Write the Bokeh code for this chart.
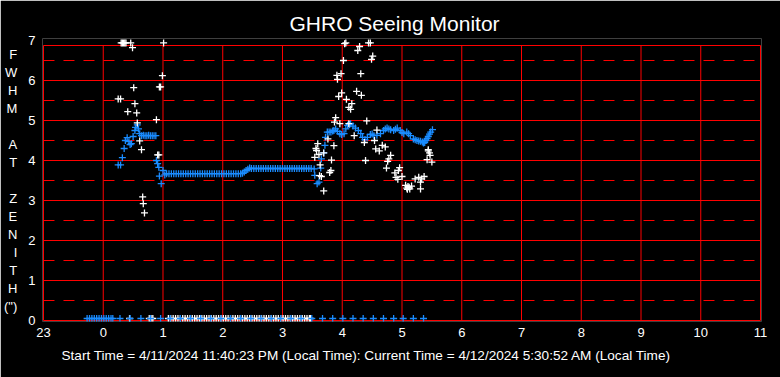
from bokeh.plotting import figure
from bokeh.models import FixedTicker, Range1d, Title
from bokeh.embed import file_html
from bokeh.resources import INLINE

# ---------------- data ----------------
title_text = "GHRO Seeing Monitor"
footer_text = ("Start Time = 4/11/2024 11:40:23 PM (Local Time): "
               "Current Time = 4/12/2024 5:30:52 AM (Local Time)")
y_label_letters = ["F", "W", "H", "M", " ", "A", "T", " ", "Z", "E", "N", "I", "T", "H", "(\")"]

x_ticks = [-1, 0, 1, 2, 3, 4, 5, 6, 7, 8, 9, 10, 11]
x_tick_labels = ["23", "0", "1", "2", "3", "4", "5", "6", "7", "8", "9", "10", "11"]
y_ticks = [0, 1, 2, 3, 4, 5, 6, 7]

# smoothed FWHM (blue)
blue_t = [0.25, 0.29, 0.32, 0.35, 0.37, 0.40, 0.43, 0.45, 0.47, 0.50, 0.53, 0.54, 0.57, 0.59,
          0.61, 0.64, 0.67, 0.70, 0.73, 0.76, 0.79, 0.82, 0.85, 0.88,
          0.89, 0.91, 0.93, 0.94, 0.97, 1.00, 1.03,
          1.06, 1.10, 1.14, 1.18, 1.22, 1.26, 1.30, 1.34, 1.38, 1.42, 1.46, 1.50, 1.54, 1.58,
          1.62, 1.66, 1.70, 1.74, 1.78, 1.82, 1.86, 1.90, 1.94, 1.98, 2.02, 2.06, 2.10, 2.14,
          2.18, 2.22, 2.26, 2.30, 2.33,
          2.36, 2.39, 2.42, 2.45,
          2.48, 2.52, 2.56, 2.60, 2.64, 2.68, 2.72, 2.76, 2.80, 2.84, 2.88, 2.92, 2.96, 3.00,
          3.04, 3.08, 3.12, 3.16, 3.20, 3.24, 3.28, 3.32, 3.36, 3.40, 3.44,
          3.48, 3.53, 3.54, 3.58, 3.61, 3.64, 3.65, 3.69, 3.71, 3.72, 3.75,
          3.78, 3.81, 3.84, 3.86, 3.89, 3.92, 3.96, 3.99, 4.03, 4.06, 4.09, 4.12, 4.14, 4.18,
          4.22, 4.27, 4.31, 4.34, 4.38, 4.42, 4.47, 4.50, 4.53, 4.58, 4.64, 4.69, 4.72, 4.75,
          4.78, 4.81, 4.86, 4.89, 4.92, 4.97, 5.00, 5.03, 5.08, 5.11, 5.14, 5.19, 5.22, 5.25,
          5.28, 5.31, 5.34, 5.36, 5.38, 5.40, 5.42, 5.44, 5.46, 5.48, 5.51]
blue_fwhm = [3.89, 3.89, 4.07, 4.30, 4.50, 4.57, 4.47, 4.40, 4.42, 4.60, 4.75, 4.83, 4.89, 4.79,
             4.67, 4.62, 4.63, 4.62, 4.62, 4.63, 4.62, 4.62, 4.62, 4.62,
             4.00, 3.92, 3.83, 3.61, 3.42, 3.75, 3.64,
             3.67, 3.67, 3.67, 3.67, 3.67, 3.67, 3.67, 3.67, 3.67, 3.67, 3.67, 3.67, 3.67, 3.67,
             3.67, 3.67, 3.67, 3.67, 3.67, 3.67, 3.67, 3.67, 3.67, 3.67, 3.67, 3.67, 3.67, 3.67,
             3.67, 3.67, 3.67, 3.67, 3.68,
             3.71, 3.75, 3.78, 3.81,
             3.80, 3.80, 3.80, 3.80, 3.80, 3.80, 3.80, 3.80, 3.80, 3.80, 3.80, 3.80, 3.80, 3.80,
             3.80, 3.80, 3.80, 3.80, 3.80, 3.80, 3.80, 3.80, 3.80, 3.80, 3.80,
             3.80, 3.79, 3.63, 3.42, 3.46, 3.81, 4.04, 4.19, 4.38, 4.58, 4.71,
             4.71, 4.71, 4.74, 4.75, 4.79, 4.73, 4.67, 4.65, 4.67, 4.79, 4.88, 4.90, 4.92, 4.86,
             4.81, 4.75, 4.67, 4.58, 4.52, 4.58, 4.65, 4.66, 4.62, 4.63, 4.67, 4.75, 4.79, 4.81,
             4.79, 4.77, 4.75, 4.78, 4.81, 4.75, 4.70, 4.67, 4.71, 4.67, 4.62, 4.54, 4.52, 4.50,
             4.49, 4.48, 4.46, 4.44, 4.45, 4.50, 4.55, 4.60, 4.66, 4.71, 4.77]

# raw FWHM samples (white)
white_t = [0.30, 0.32, 0.34, 0.36, 0.38, 0.46, 0.49, 1.01, 0.99, 0.94, 0.96, 0.51, 0.25, 0.29,
           0.53, 0.41, 0.56, 0.89, 0.57, 0.61, 0.64, 0.91, 0.93, 0.66, 0.67, 0.69,
           4.04, 4.06, 4.44, 4.47, 4.29, 4.26, 4.51, 4.49, 4.02, 4.31, 3.91, 3.98, 3.92, 3.99,
           3.94, 4.24, 4.32, 4.07, 4.16, 4.11, 4.14, 3.89, 3.87, 3.96, 4.41, 4.11, 3.76, 3.59,
           3.56, 3.57, 3.86, 3.61, 3.54, 3.69, 3.82, 4.20, 4.37, 4.54, 4.58, 4.56, 4.62, 4.67,
           4.72, 4.39, 3.63, 3.81, 3.79, 3.65, 3.62, 3.69, 4.81, 4.78, 4.76, 4.74, 4.96, 4.94,
           4.88, 5.00, 4.90, 4.93, 5.10, 5.06, 5.13, 5.16, 5.08, 5.12, 5.09, 5.22, 5.28, 5.31,
           5.33, 5.37, 5.31, 5.44, 5.46, 5.42, 5.50, 5.47, 5.44]
white_fwhm = [6.94, 6.94, 6.94, 6.94, 6.94, 6.94, 6.82, 6.94, 6.12, 5.84, 5.84, 5.82, 5.54, 5.54,
              5.42, 5.22, 5.19, 5.02, 4.94, 4.49, 4.27, 4.14, 4.14, 3.09, 2.92, 2.69,
              6.92, 6.94, 6.94, 6.94, 6.85, 6.75, 6.61, 6.53, 6.50, 6.17, 6.13, 6.17, 6.03, 5.69,
              5.60, 5.73, 5.63, 5.53, 5.42, 5.33, 5.28, 5.07, 4.96, 4.92, 4.99, 4.92, 4.54, 4.42,
              4.30, 4.25, 4.37, 4.15, 4.08, 4.19, 4.01, 4.62, 4.45, 4.50, 4.76, 4.29, 4.24, 4.38,
              4.34, 4.00, 3.89, 3.75, 3.70, 3.60, 3.62, 3.24, 4.13, 4.04, 3.98, 3.81, 3.82, 3.75,
              3.69, 3.60, 3.58, 3.53, 3.35, 3.38, 3.29, 3.36, 3.31, 3.33, 3.28, 3.54, 3.58, 3.46,
              3.54, 3.60, 3.29, 4.27, 4.19, 4.02, 3.96, 4.13, 4.24]

# readings with no value (drawn on the floor of the chart)
zero_level = 0.05
blue_zero_t = [-0.27, -0.23, -0.19, -0.15, -0.11, -0.07, -0.03, 0.01, 0.05, 0.09, 0.13, 0.16,
               0.28, 0.45, 0.63, 0.79, 0.96, 1.12, 1.29, 1.46, 1.63, 1.80, 1.97, 2.13, 2.30,
               2.47, 2.64, 2.81, 2.97, 3.14, 3.31, 3.49, 3.67, 3.84, 4.01, 4.18, 4.35, 4.52,
               4.69, 4.86, 5.02, 5.19, 5.36]
white_zero_t = [0.44, 0.77, 0.80, 0.83,
                1.09, 1.13, 1.17, 1.21, 1.25, 1.29, 1.33, 1.37, 1.41, 1.45, 1.49, 1.53, 1.57,
                1.61, 1.65, 1.69, 1.73, 1.77, 1.81, 1.85, 1.89, 1.93, 1.97, 2.01, 2.05, 2.09,
                2.13, 2.17, 2.21, 2.25, 2.29, 2.33, 2.37, 2.41, 2.45, 2.49, 2.53, 2.57, 2.61,
                2.65, 2.69, 2.73, 2.77, 2.81, 2.85, 2.89, 2.93, 2.97, 3.01, 3.05, 3.09, 3.13,
                3.17, 3.21, 3.25, 3.29, 3.33, 3.37, 3.41, 3.45, 3.47]

# ---------------- style ----------------
FONT = "Liberation Sans"
RED = "#ff0000"
BLUE = "#1a8cff"
WHITE = "#ffffff"
BOX_TOP = 6.875

p = figure(width=780, height=377,
           x_range=Range1d(-1 - 1 / 60, 11 + 1 / 60),
           y_range=Range1d(-0.025, 7.05),
           output_backend="svg", toolbar_location=None,
           min_border_left=39, min_border_right=19, min_border_top=38, min_border_bottom=56,
           background_fill_color="black", border_fill_color="black",
           outline_line_color=None)
p.xgrid.visible = False
p.ygrid.visible = False

x0, x1 = x_ticks[0], x_ticks[-1]
h_solid = [y for y in y_ticks if y < BOX_TOP] + [BOX_TOP]
p.segment(x0=[x0] * len(h_solid), y0=h_solid, x1=[x1] * len(h_solid), y1=h_solid,
          line_color=RED, line_width=1)
h_dash = [y + 0.5 for y in y_ticks if y + 0.5 < BOX_TOP]
p.segment(x0=[x0] * len(h_dash), y0=h_dash, x1=[x1] * len(h_dash), y1=h_dash,
          line_color=RED, line_width=1, line_dash="11 9")
p.segment(x0=x_ticks, y0=[0] * len(x_ticks), x1=x_ticks, y1=[BOX_TOP] * len(x_ticks),
          line_color=RED, line_width=1)

mk = dict(marker="cross", size=7, line_width=1.3)
p.scatter(white_zero_t, [zero_level] * len(white_zero_t), line_color=WHITE, **mk)
p.scatter(blue_zero_t, [zero_level] * len(blue_zero_t), line_color=BLUE, **mk)
p.scatter(blue_t, blue_fwhm, line_color=BLUE, **mk)
p.scatter(white_t, white_fwhm, line_color=WHITE, **mk)

for ax in (p.xaxis[0], p.yaxis[0]):
    ax.axis_line_color = None
    ax.major_tick_line_color = None
    ax.minor_tick_line_color = None
    ax.major_label_text_color = WHITE
    ax.major_label_text_font = FONT
    ax.major_label_text_font_size = "13px"

p.xaxis.ticker = FixedTicker(ticks=x_ticks)
p.xaxis.major_label_overrides = {t: lab for t, lab in zip(x_ticks, x_tick_labels)}
p.xaxis.major_label_standoff = 0
p.yaxis.ticker = FixedTicker(ticks=y_ticks)
p.yaxis.major_label_standoff = 1

# y axis title as a vertical column of letters
p.yaxis.axis_label = "\n".join(y_label_letters)
p.yaxis.axis_label_orientation = "horizontal"
p.yaxis.axis_label_text_font = FONT
p.yaxis.axis_label_text_font_size = "13px"
p.yaxis.axis_label_text_font_style = "normal"
p.yaxis.axis_label_text_color = WHITE
p.yaxis.axis_label_text_line_height = 1.2
p.yaxis.axis_label_text_align = "center"
p.yaxis.axis_label_standoff = 8

p.title.text = title_text
p.title.align = "left"
p.title.offset = 247
p.title.text_font = FONT
p.title.text_font_size = "21px"
p.title.text_font_style = "normal"
p.title.text_color = WHITE
p.title.standoff = 7

footer = Title(text=footer_text, align="left", offset=19, text_font=FONT,
               text_font_size="13.6px", text_font_style="normal", text_color=WHITE,
               standoff=12)
p.add_layout(footer, "below")

open("out.html", "w").write(file_html(p, INLINE))
